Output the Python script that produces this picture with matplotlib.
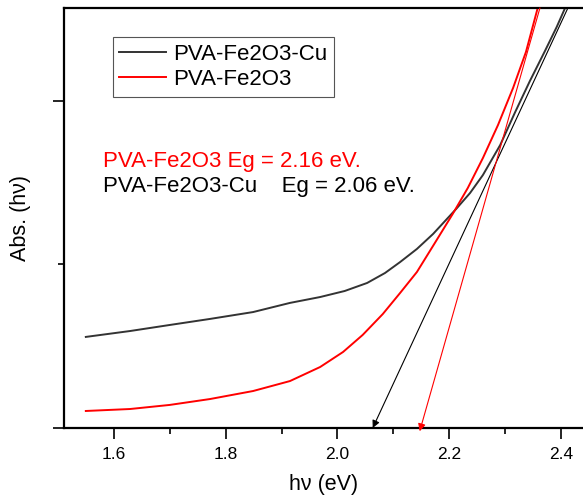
import matplotlib
matplotlib.use("Agg")
import matplotlib.pyplot as plt
from matplotlib.ticker import MultipleLocator, NullFormatter

plt.rcParams["font.family"] = ["Liberation Sans", "DejaVu Sans"]

# PVA-Fe2O3-Cu (black)
cu_x = [1.550, 1.629, 1.700, 1.772, 1.849, 1.915, 1.969, 2.013, 2.053, 2.085, 2.112,
        2.142, 2.171, 2.212, 2.237, 2.260, 2.291, 2.317, 2.344, 2.371, 2.392, 2.407]
cu_y = [0.557, 0.593, 0.630, 0.667, 0.709, 0.765, 0.801, 0.838, 0.887, 0.948, 1.015,
        1.095, 1.187, 1.339, 1.437, 1.547, 1.731, 1.927, 2.122, 2.306, 2.453, 2.569]

# PVA-Fe2O3 (red)
fe_x = [1.550, 1.629, 1.700, 1.772, 1.849, 1.915, 1.969, 2.010, 2.045, 2.081,
        2.112, 2.142, 2.174, 2.206, 2.233, 2.260, 2.287, 2.314, 2.337, 2.358]
fe_y = [0.104, 0.116, 0.141, 0.177, 0.226, 0.287, 0.373, 0.465, 0.569, 0.697,
        0.826, 0.954, 1.131, 1.309, 1.468, 1.651, 1.853, 2.080, 2.300, 2.569]

# tangent lines: (start at top, end on the axis)
cu_tan = [(2.412, 2.569), (2.063, 0.0)]
fe_tan = [(2.362, 2.569), (2.147, -0.02)]

fig = plt.figure(figsize=(5.83, 4.98), dpi=100)
ax = fig.add_axes([0.1098, 0.1406, 0.8902, 0.8434])

ax.plot(cu_x, cu_y, color="#333333", lw=1.4, label="PVA-Fe2O3-Cu", solid_joinstyle="round")
ax.plot(fe_x, fe_y, color="#ff0000", lw=1.4, label="PVA-Fe2O3", solid_joinstyle="round")

ax.annotate("", xy=cu_tan[1], xytext=cu_tan[0], annotation_clip=False,
            arrowprops=dict(arrowstyle="-|>", color="black", lw=0.8, mutation_scale=11,
                            shrinkA=0, shrinkB=0))
ax.annotate("", xy=fe_tan[1], xytext=fe_tan[0], annotation_clip=False,
            arrowprops=dict(arrowstyle="-|>", color="#ff0000", lw=0.8, mutation_scale=11,
                            shrinkA=0, shrinkB=0))

ax.text(1.580, 1.596, "PVA-Fe2O3 Eg = 2.16 eV.", color="#ff0000", fontsize=16, va="baseline")
ax.text(1.580, 1.443, "PVA-Fe2O3-Cu    Eg = 2.06 eV.", color="black", fontsize=16, va="baseline")

ax.set_xlim(1.511, 2.439)
ax.set_ylim(0, 2.569)

ax.xaxis.set_major_locator(MultipleLocator(0.2))
ax.xaxis.set_minor_locator(MultipleLocator(0.1))
ax.yaxis.set_major_locator(MultipleLocator(2))
ax.yaxis.set_minor_locator(MultipleLocator(1))
ax.yaxis.set_major_formatter(NullFormatter())
ax.tick_params(which="major", length=8, width=1.2, direction="out", labelsize=12.5)
ax.tick_params(which="minor", length=4, width=1.2, direction="out")
ax.tick_params(axis="x", pad=6)

ax.spines["right"].set_visible(False)
for s in ["left", "bottom", "top"]:
    ax.spines[s].set_linewidth(1.6)

ax.set_xlabel("h\u03bd (eV)", fontsize=15.5, labelpad=8)
ax.set_ylabel("Abs. (h\u03bd)", fontsize=15.5, labelpad=12)

leg = ax.legend(loc="upper left", bbox_to_anchor=(0.094, 0.931), fontsize=16,
                frameon=True, fancybox=False, edgecolor="#555555", framealpha=1,
                handlelength=2.1, handletextpad=0.3, borderpad=0.3, labelspacing=0.2,
                borderaxespad=0)
leg.get_frame().set_linewidth(0.8)

fig.savefig("out.png", dpi=100)
